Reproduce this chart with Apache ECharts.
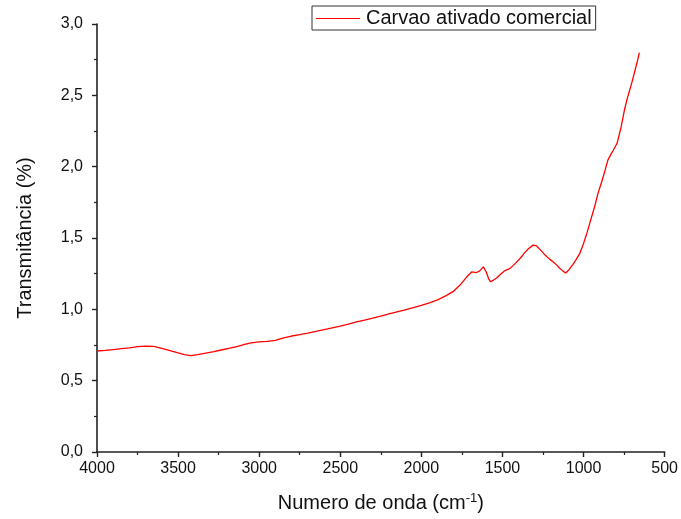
<!DOCTYPE html>
<html>
<head>
<meta charset="utf-8">
<script src="https://cdn.jsdelivr.net/npm/echarts@6/dist/echarts.min.js"></script>
<style>html,body{margin:0;padding:0;background:#fff}#c{width:681px;height:519px}</style>
</head>
<body>
<div id="c"></div>
<script>
const seriesName = 'Carvao ativado comercial';
const wavenumbers = [4000,3950,3900,3850,3800,3750,3700,3650,3600,3550,3500,3460,3420,3380,3337,3280,3234,3180,3132,3090,3050,3000,2950,2900,2850,2800,2750,2700,2650,2600,2550,2500,2450,2400,2350,2300,2250,2200,2150,2100,2050,2000,1950,1900,1850,1800,1760,1720,1690,1660,1640,1618,1600,1585,1573,1555,1536,1510,1484,1453,1420,1392,1386,1380,1367,1340,1311,1290,1260,1239,1210,1188,1165,1147,1125,1110,1090,1065,1045,1024,1000,980,962,945,932,911,895,885,870,850,830,819,800,793,780,768,748,730,717,700,686,670,656];
const transmittance = [0.708,0.712,0.718,0.724,0.730,0.738,0.742,0.741,0.726,0.710,0.694,0.682,0.676,0.682,0.692,0.703,0.715,0.728,0.741,0.754,0.765,0.772,0.775,0.782,0.800,0.813,0.823,0.834,0.846,0.857,0.870,0.882,0.896,0.912,0.925,0.938,0.952,0.968,0.982,0.996,1.012,1.027,1.045,1.066,1.094,1.128,1.172,1.228,1.262,1.258,1.270,1.298,1.262,1.214,1.193,1.205,1.220,1.248,1.272,1.287,1.322,1.356,1.348,1.372,1.392,1.425,1.450,1.444,1.410,1.382,1.352,1.334,1.310,1.288,1.266,1.255,1.278,1.315,1.350,1.390,1.462,1.532,1.603,1.668,1.719,1.813,1.870,1.905,1.964,2.046,2.090,2.110,2.150,2.165,2.225,2.280,2.397,2.480,2.530,2.600,2.660,2.730,2.800];
const xTicks = {min: 500, max: 4000, interval: 500};
const yTicks = {min: 0, max: 3, interval: 0.5};

const data = wavenumbers.map((w, i) => [w, transmittance[i]]);
const FONT = 'Liberation Sans, Arial, sans-serif';
const chart = echarts.init(document.getElementById('c'), null, {renderer: 'canvas'});
chart.setOption({
  animation: false,
  backgroundColor: '#fff',
  grid: {left: 97, right: 14, top: 24, bottom: 67, containLabel: false},
  legend: {
    left: 312, top: 6,
    padding: [2, 4, 1, 4],
    borderColor: '#333', borderWidth: 1,
    itemWidth: 44, itemHeight: 1,
    icon: 'rect',
    itemGap: 0,
    textStyle: {fontFamily: FONT, fontSize: 20, color: '#111', lineHeight: 21, padding: [0, 0, 0, 1]},
    data: [{name: seriesName, itemStyle: {color: '#ff0000'}}]
  },
  xAxis: {
    type: 'value', inverse: true,
    min: xTicks.min, max: xTicks.max, interval: xTicks.interval,
    name: 'Numero de onda (cm{sup|-1})',
    nameLocation: 'middle', nameGap: 40,
    nameTextStyle: {fontFamily: FONT, fontSize: 20, color: '#111',
      rich: {sup: {fontFamily: FONT, fontSize: 13, color: '#111', verticalAlign: 'top', padding: [0, 0, 10, 0]}}},
    axisLine: {show: true, lineStyle: {color: '#222', width: 1.6}},
    axisTick: {show: true, inside: false, length: 5, lineStyle: {color: '#222', width: 1.4}},
    minorTick: {show: true, splitNumber: 2, length: 3, lineStyle: {color: '#222', width: 1.2}},
    splitLine: {show: false},
    axisLabel: {fontFamily: FONT, fontSize: 16, color: '#111', margin: 9, showMinLabel: true, showMaxLabel: true,
      formatter: v => String(v)}
  },
  yAxis: {
    type: 'value',
    min: yTicks.min, max: yTicks.max, interval: yTicks.interval,
    name: 'Transmitância (%)',
    nameLocation: 'middle', nameGap: 62, nameRotate: 90,
    nameTextStyle: {fontFamily: FONT, fontSize: 20, color: '#111'},
    axisLine: {show: true, lineStyle: {color: '#222', width: 1.6}},
    axisTick: {show: true, inside: false, length: 5, lineStyle: {color: '#222', width: 1.4}},
    minorTick: {show: true, splitNumber: 2, length: 3, lineStyle: {color: '#222', width: 1.2}},
    splitLine: {show: false},
    axisLabel: {fontFamily: FONT, fontSize: 16, color: '#111', margin: 14,
      formatter: v => v.toFixed(1).replace('.', ',')}
  },
  series: [{
    name: seriesName,
    type: 'line',
    data: data,
    symbol: 'none',
    smooth: false,
    lineStyle: {color: '#ff0000', width: 1.3},
    itemStyle: {color: '#ff0000'}
  }]
});
</script>
</body>
</html>
